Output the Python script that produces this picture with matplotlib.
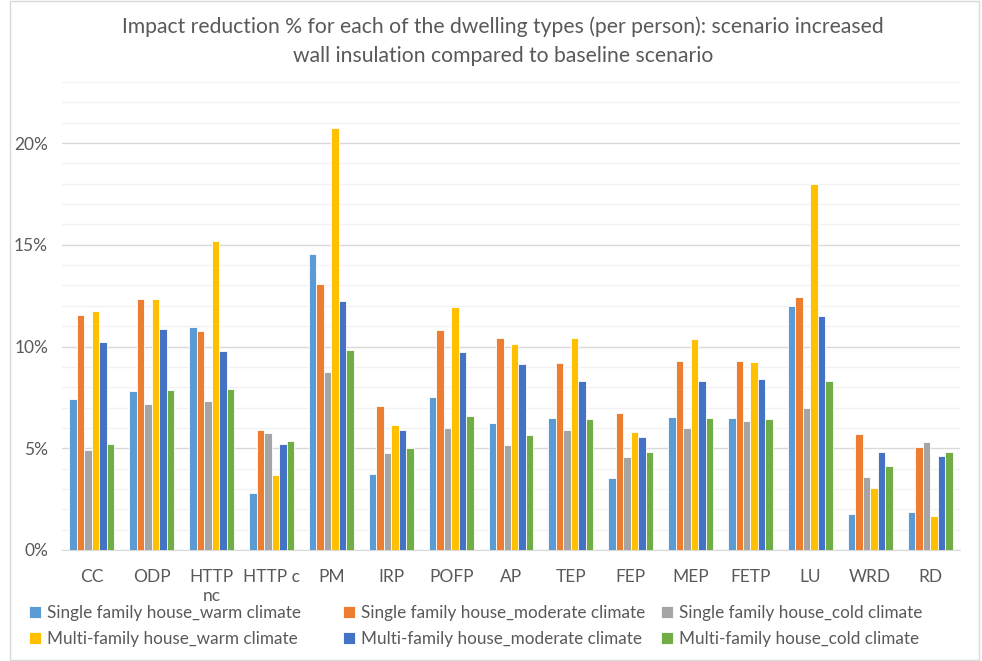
import matplotlib.pyplot as plt
import numpy as np
from matplotlib.patches import Rectangle
from matplotlib.ticker import MultipleLocator, FuncFormatter

categories = ["CC", "ODP", "HTTP\nnc", "HTTP c", "PM", "IRP", "POFP", "AP",
              "TEP", "FEP", "MEP", "FETP", "LU", "WRD", "RD"]

series_names = ["Single family house_warm climate",
                "Single family house_moderate climate",
                "Single family house_cold climate",
                "Multi-family house_warm climate",
                "Multi-family house_moderate climate",
                "Multi-family house_cold climate"]

sfh_warm = [7.42, 7.83, 10.96, 2.78, 14.55, 3.73, 7.52, 6.22, 6.49, 3.55, 6.52, 6.49, 11.99, 1.77, 1.88]
sfh_moderate = [11.55, 12.35, 10.78, 5.90, 13.07, 7.06, 10.80, 10.42, 9.19, 6.72, 9.27, 9.27, 12.43, 5.70, 5.06]
sfh_cold = [4.91, 7.17, 7.32, 5.73, 8.75, 4.77, 6.00, 5.16, 5.88, 4.59, 6.00, 6.32, 6.96, 3.59, 5.31]
mfh_warm = [11.76, 12.35, 15.18, 3.69, 20.74, 6.14, 11.96, 10.10, 10.40, 5.80, 10.36, 9.22, 18.00, 3.06, 1.67]
mfh_moderate = [10.24, 10.88, 9.78, 5.19, 12.24, 5.89, 9.73, 9.13, 8.33, 5.55, 8.32, 8.42, 11.51, 4.80, 4.60]
mfh_cold = [5.21, 7.86, 7.90, 5.34, 9.84, 5.01, 6.58, 5.65, 6.44, 4.83, 6.49, 6.45, 8.30, 4.11, 4.80]

series = [sfh_warm, sfh_moderate, sfh_cold, mfh_warm, mfh_moderate, mfh_cold]
colors = ["#5B9BD5", "#ED7D31", "#A5A5A5", "#FFC000", "#4472C4", "#70AD47"]

plt.rcParams['font.family'] = ['Lato', 'DejaVu Sans']

fig = plt.figure(figsize=(9.82, 6.61), dpi=100)
fig.patches.append(Rectangle((10 / 982, 0.002), 969 / 982, 0.996, transform=fig.transFigure,
                             fill=False, edgecolor="#D9D9D9", linewidth=1))
ax = fig.add_axes([62 / 982, 1 - 550 / 661, (960 - 62) / 982, (550 - 82) / 661])

x = np.arange(len(categories))
width = 0.125
bars = []
for i, (vals, col, name) in enumerate(zip(series, colors, series_names)):
    b = ax.bar(x + (i - 2.5) * width, np.array(vals) / 100, width, color=col,
               edgecolor="white", linewidth=0.6, label=name, zorder=3)
    bars.append(b)

ax.set_xlim(-0.5, len(categories) - 0.5)
ax.set_ylim(0, 0.23)
ax.yaxis.set_major_locator(MultipleLocator(0.05))
ax.yaxis.set_minor_locator(MultipleLocator(0.01))
ax.yaxis.set_major_formatter(FuncFormatter(lambda v, p: f"{v * 100:.0f}%"))
ax.grid(axis="y", which="major", color="#D9D9D9", linewidth=1, zorder=0)
ax.grid(axis="y", which="minor", color="#F2F2F2", linewidth=1, zorder=0)
ax.set_xticks(x)
ax.set_xticklabels(categories)
ax.tick_params(axis="both", which="both", length=0, labelsize=12.5, colors="#595959")
ax.tick_params(axis="x", pad=14)
ax.tick_params(axis="y", pad=10)
for s in ["top", "right", "left"]:
    ax.spines[s].set_visible(False)
ax.spines["bottom"].set_color("#D9D9D9")

fig.text(0.512, 1 - 27 / 661, "Impact reduction % for each of the dwelling types (per person): scenario increased",
         ha="center", va="center", fontsize=15.2, color="#595959")
fig.text(0.512, 1 - 56 / 661, "wall insulation compared to baseline scenario",
         ha="center", va="center", fontsize=15.2, color="#595959")

# legend: three columns, row-major like the original
col_x = [29, 343, 661]
for c in range(3):
    fig.legend([bars[c], bars[c + 3]], [series_names[c], series_names[c + 3]],
               loc="center left", bbox_to_anchor=(col_x[c] / 982, 1 - 626 / 661),
               frameon=False, fontsize=12.3, labelcolor="#595959",
               handlelength=0.7, handleheight=0.7, handletextpad=0.35,
               borderaxespad=0, borderpad=0, labelspacing=0.6)

fig.savefig("out.png", dpi=100)
